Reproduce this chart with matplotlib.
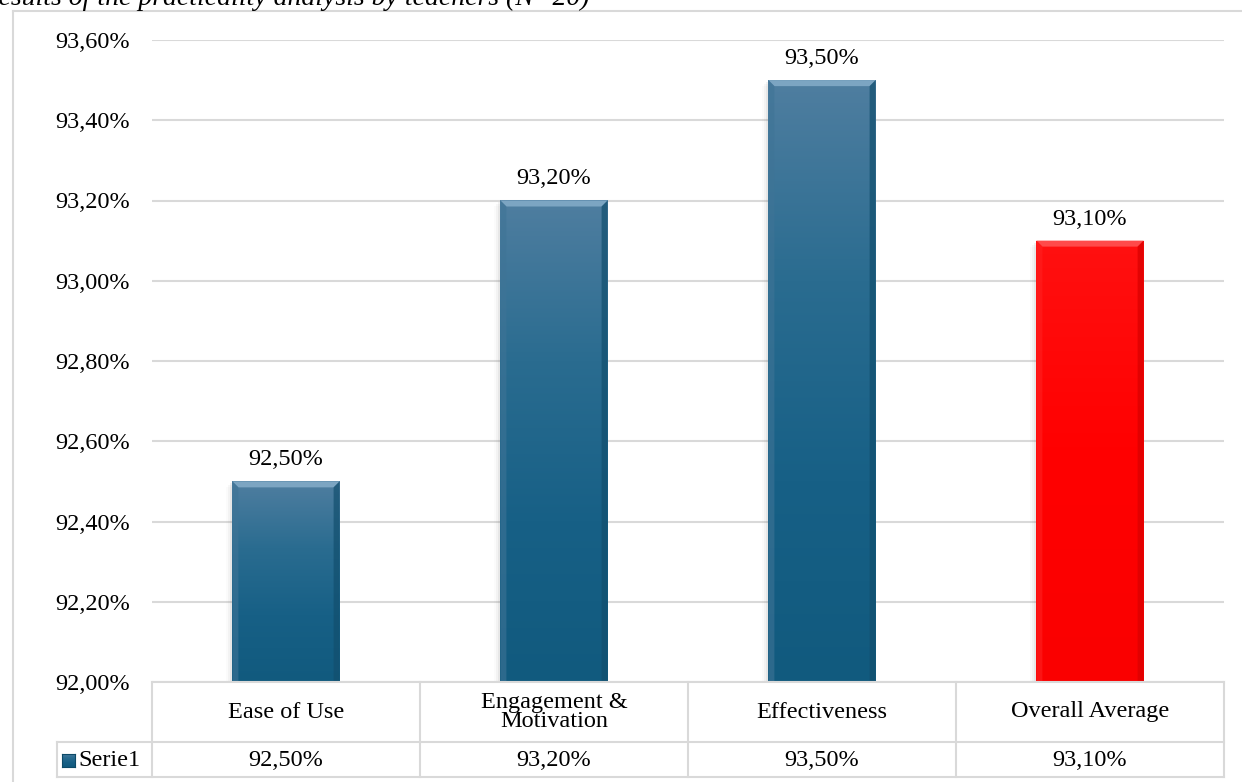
import matplotlib
matplotlib.use("Agg")
import matplotlib.pyplot as plt
import numpy as np
from matplotlib.colors import LinearSegmentedColormap
from matplotlib.patches import Polygon, Rectangle

categories = ["Ease of Use", "Engagement &\nMotivation", "Effectiveness", "Overall Average"]
values = [92.50, 93.20, 93.50, 93.10]
series_name = "Serie1"
yticks = [92.00, 92.20, 92.40, 92.60, 92.80, 93.00, 93.20, 93.40, 93.60]
title = "Figure 3. Results of the practicality analysis by teachers (N=20)"

W, H = 1242, 782
fig = plt.figure(figsize=(W / 100, H / 100), dpi=100)
plt.rcParams['font.family'] = ['Liberation Serif', 'DejaVu Serif']
FS = 17.5

def fx(px):
    return px / W

def fy(py):
    return 1 - py / H

def pct(v):
    return ("%.2f%%" % v).replace(".", ",")

left, right, top, bottom = 152, 1224, 40, 682
ax = fig.add_axes([fx(left), fy(bottom), fx(right - left), (bottom - top) / H])
ax.set_xlim(-0.5, 3.5)
ax.set_ylim(92.0, 93.6)
ax.set_yticks(yticks)
ax.set_yticklabels([pct(v) for v in yticks], fontsize=FS)
ax.tick_params(axis='y', length=0, pad=16)
ax.set_xticks([])
for s in ax.spines.values():
    s.set_visible(False)
ax.grid(axis='y', color='#d9d9d9', linewidth=1.5)
ax.set_axisbelow(True)

blue_cmap = LinearSegmentedColormap.from_list("b", ["#4f7ea0", "#2a6c90", "#176086", "#115a7e"])
red_cmap = LinearSegmentedColormap.from_list("r", ["#ff1010", "#ff0000", "#fa0000"])
bar_w = 0.40
px_x = 1 / 268.0
px_y = 1.6 / 642.0
bx, by = 6 * px_x, 6 * px_y
bars = ax.bar(range(len(values)), [v - 92.0 for v in values], bottom=92.0, width=bar_w,
              color='none', edgecolor='none', zorder=3)
grad = np.linspace(0, 1, 256).reshape(-1, 1)
for i, (b, v) in enumerate(zip(bars, values)):
    red = (i == 3)
    cmap = red_cmap if red else blue_cmap
    x0 = b.get_x()
    x1 = x0 + bar_w
    # soft shadow
    for k, a in enumerate([0.10, 0.06, 0.03]):
        ax.add_patch(Rectangle((x0 - (k + 1) * 2 * px_x, 92.0), (k + 1) * 2 * px_x, v - 92.0 - (k + 1) * 2 * px_y,
                               facecolor='#808080', alpha=a, edgecolor='none', zorder=2))
    im = ax.imshow(grad, cmap=cmap, aspect='auto', extent=[x0, x1, 92.0, v],
                   origin='upper', zorder=3)
    im.set_clip_path(b)
    ctop = '#ff4a4a' if red else '#7ca5c2'
    cleft = '#ff2020' if red else '#3f7496'
    cright = '#d80000' if red else '#124f6e'
    ax.add_patch(Polygon([(x0, v), (x1, v), (x1 - bx, v - by), (x0 + bx, v - by)],
                         closed=True, facecolor=ctop, edgecolor='none', zorder=4))
    ax.add_patch(Polygon([(x0, v), (x0 + bx, v - by), (x0 + bx, 92.0), (x0, 92.0)],
                         closed=True, facecolor=cleft, edgecolor='none', alpha=0.6, zorder=4))
    ax.add_patch(Polygon([(x1, v), (x1 - bx, v - by), (x1 - bx, 92.0), (x1, 92.0)],
                         closed=True, facecolor=cright, edgecolor='none', alpha=0.7, zorder=4))
    ax.text(i, v + 16 * px_y, pct(v), ha='center', va='baseline', fontsize=FS, zorder=5)

# data table
gc = '#d9d9d9'
lw = 1.5
row1_top, row1_bot, row2_bot = 682, 742, 777
leg_left = 57
cat_w = (right - left) / 4
def hline(y, x0, x1):
    fig.add_artist(plt.Line2D([fx(x0), fx(x1)], [fy(y), fy(y)], color=gc, lw=lw))
def vline(x, y0, y1):
    fig.add_artist(plt.Line2D([fx(x), fx(x)], [fy(y0), fy(y1)], color=gc, lw=lw))
hline(row1_top, left, right)
hline(row1_bot, leg_left, right)
hline(row2_bot, leg_left, right)
for k in range(5):
    vline(left + k * cat_w, row1_top, row2_bot)
vline(leg_left, row1_bot, row2_bot)
for k, c in enumerate(categories):
    xc = left + (k + 0.5) * cat_w
    fig.text(fx(xc), fy((row1_top + row1_bot) / 2), c, ha='center', va='center',
             fontsize=FS, linespacing=0.9)
    fig.text(fx(xc), fy((row1_bot + row2_bot) / 2 + 1), pct(values[k]),
             ha='center', va='center', fontsize=FS)
# legend key
kax = fig.add_axes([fx(62), fy(767), fx(13), 13 / H])
kax.imshow(grad, cmap=blue_cmap, aspect='auto', extent=[0, 1, 0, 1])
kax.set_xticks([]); kax.set_yticks([])
for s in kax.spines.values():
    s.set_color('#0d4a68'); s.set_linewidth(0.8)
fig.text(fx(78), fy((row1_bot + row2_bot) / 2 + 1), series_name, ha='left', va='center', fontsize=FS)

# outer frame (partly cropped)
fig.add_artist(plt.Line2D([fx(13), fx(13)], [fy(11), 0], color=gc, lw=1.5))
fig.add_artist(plt.Line2D([fx(13), 1], [fy(11), fy(11)], color=gc, lw=1.5))

# cropped caption
fig.text(fx(590), fy(5), title, ha='right', va='baseline', fontsize=20, style='italic')

fig.savefig("out.png", dpi=100)
